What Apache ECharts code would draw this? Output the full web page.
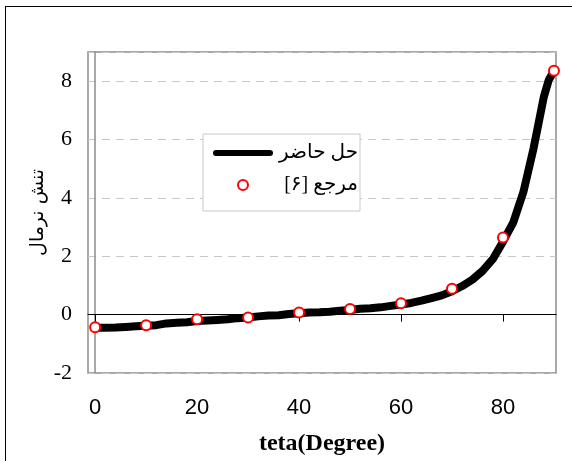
<!DOCTYPE html>
<html>
<head>
<meta charset="utf-8">
<script src="https://cdn.jsdelivr.net/npm/echarts@6/dist/echarts.min.js"></script>
<style>
html,body{margin:0;padding:0;background:#fff;}
#frame{position:absolute;left:5px;top:6px;width:600px;height:500px;border:1px solid #000;box-sizing:border-box;}
#chart{position:absolute;left:0;top:0;width:572px;height:461px;}
</style>
</head>
<body>
<div id="frame"></div>
<div id="chart"></div>
<script>
// Present solution (dense curve)
const curveTheta = [0,2,4,6,8,10,12,14,16,18,20,22,24,26,28,30,32,34,36,38,40,42,44,46,48,50,52,54,56,58,60,62,64,66,68,70,72,74,76,78,80,82,84,86,88,89,90];
const curveStress = [-0.45,-0.45,-0.44,-0.42,-0.40,-0.38,-0.36,-0.30,-0.28,-0.26,-0.22,-0.20,-0.18,-0.16,-0.12,-0.10,-0.06,-0.03,-0.02,0.02,0.05,0.07,0.08,0.10,0.13,0.16,0.20,0.22,0.25,0.30,0.35,0.40,0.48,0.57,0.66,0.80,0.98,1.20,1.50,1.90,2.50,3.15,4.20,5.70,7.45,8.05,8.35];
// Reference [6]
const refTheta = [0,10,20,30,40,50,60,70,80,90];
const refStress = [-0.43,-0.36,-0.16,-0.10,0.07,0.19,0.39,0.89,2.64,8.36];
// Ticks
const xTicks = [0,20,40,60,80];
const yTicks = [-2,0,2,4,6,8];
const nameCurve = 'حل حاضر';
const nameRef = '\u200Fمرجع [۶]\u200F';
const xTitle = 'teta(Degree)';
const yTitle = 'تنش نرمال';

const chart = echarts.init(document.getElementById('chart'), null, {renderer:'canvas'});
const option = {
  animation:false,
  backgroundColor:'transparent',
  grid:{left:88,top:52,right:16,bottom:85,show:true,borderColor:'#8c8c8c',borderWidth:1.5,backgroundColor:'#fff'},
  legend:{
    orient:'vertical',left:203,top:134,
    padding:[9,2,16,10],itemGap:12,itemWidth:60,itemHeight:10,
    backgroundColor:'#fff',borderColor:'#c8c8c8',borderWidth:1,
    formatter: n => '{t|' + n + '}',
    textStyle:{fontFamily:'Liberation Serif, DejaVu Sans',fontSize:20,color:'#000',
      rich:{t:{width:80,align:'right',fontFamily:'Liberation Serif, DejaVu Sans',fontSize:20,color:'#000'}}},
    data:[
      {name:nameCurve,icon:'path://M3,0 H57 A3,3 0 0 1 57,6 H3 A3,3 0 0 1 3,0 Z',itemStyle:{color:'#000',borderWidth:0}},
      {name:nameRef,icon:'circle'}
    ]
  },
  xAxis:[{
    type:'value',min:-1.4,max:90.4,
    axisLine:{onZero:true,lineStyle:{color:'#000',width:1}},
    axisTick:{show:true,customValues:xTicks,length:7,lineStyle:{color:'#000'}},
    axisLabel:{show:false},splitLine:{show:false}
  },{
    type:'value',min:-1.4,max:90.4,position:'bottom',
    axisLine:{show:false,onZero:false},axisTick:{show:false},splitLine:{show:false},
    axisLabel:{customValues:xTicks,margin:24,fontFamily:'Liberation Sans',fontSize:22,color:'#000'},
    name:xTitle,nameLocation:'middle',nameGap:59,
    nameTextStyle:{fontFamily:'Liberation Serif',fontWeight:'bold',fontSize:24,color:'#000'}
  }],
  yAxis:{
    type:'value',min:-2,max:9,interval:2,
    axisLine:{show:true,lineStyle:{color:'#8c8c8c',width:1.5}},
    axisTick:{show:false},
    axisLabel:{margin:16,fontFamily:'Liberation Serif',fontSize:22,color:'#000',showMaxLabel:false},
    splitLine:{show:true,lineStyle:{color:'#c8c8c8',type:[8,6],width:1}},
    name:yTitle,nameLocation:'middle',nameGap:40,nameRotate:90,nameMoveOverlap:false,
    nameTextStyle:{fontFamily:'DejaVu Sans',fontSize:19,color:'#000'}
  },
  series:[{
    name:nameCurve,type:'line',xAxisIndex:0,
    data:curveTheta.map((t,i)=>[t,curveStress[i]]),
    symbol:'none',smooth:false,
    lineStyle:{color:'#000',width:8,cap:'round',join:'round'},
    itemStyle:{color:'#000'},z:2
  },{
    name:nameRef,type:'scatter',xAxisIndex:0,
    data:refTheta.map((t,i)=>[t,refStress[i]]),
    symbol:'circle',symbolSize:10,
    itemStyle:{color:'#fff',borderColor:'#ff0000',borderWidth:2,opacity:1},z:3
  }]
};
chart.setOption(option);
</script>
</body>
</html>
